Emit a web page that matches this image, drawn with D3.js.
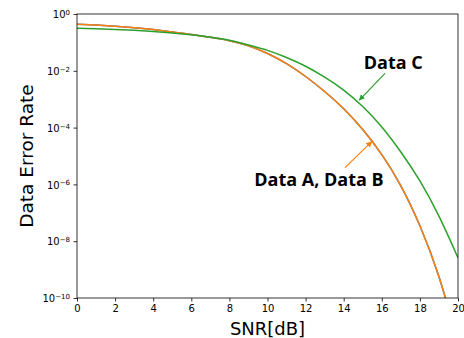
<!DOCTYPE html>
<html>
<head>
<meta charset="utf-8">
<script src="https://cdn.jsdelivr.net/npm/d3@7"></script>
<style>
  body { margin: 0; background: #fff; }
  text { font-family: "DejaVu Sans", sans-serif; }
</style>
</head>
<body>
<div id="chart"></div>
<script>
// SNR grid (dB)
var snr = [0, 1, 2, 3, 4, 5, 6, 7, 8, 9, 10, 11, 12, 13, 14, 15, 16, 17, 18, 19, 20];

// Data A and Data B lie on top of each other
var dataA = [0.437, 0.407, 0.372, 0.331, 0.282, 0.234, 0.191, 0.151, 0.115, 0.0759, 0.0407,
             0.0178, 6.3e-3, 1.86e-3, 4.6e-4, 8.5e-5, 1.12e-5, 8.9e-7, 3.5e-8, 5.6e-10, 2.8e-12];
var dataB = [0.437, 0.407, 0.372, 0.331, 0.282, 0.234, 0.191, 0.151, 0.115, 0.0759, 0.0407,
             0.0178, 6.3e-3, 1.86e-3, 4.6e-4, 8.5e-5, 1.12e-5, 8.9e-7, 3.5e-8, 5.6e-10, 2.8e-12];
var dataC = [0.316, 0.302, 0.285, 0.266, 0.243, 0.216, 0.186, 0.153, 0.119, 0.0813, 0.0525,
             0.0295, 0.0145, 6.0e-3, 2.1e-3, 5.5e-4, 1.05e-4, 1.38e-5, 1.32e-6, 7.6e-8, 2.6e-9];

var xTicks = [0, 2, 4, 6, 8, 10, 12, 14, 16, 18, 20];
var yTickExps = [0, -2, -4, -6, -8, -10];

// annotation: text anchor and arrow tail/tip, in data coords
var noteLabels = ["Data C", "Data A, Data B"];
var noteText = [[16.6, 0.0112], [12.7, 8.8e-7]];
var noteTail = [[16.17, 8.1e-3], [14.07, 3.9e-6]];
var noteTip = [[14.82, 9.3e-4], [15.47, 3.2e-5]];

var W = 464, H = 338;
var margin = {top: 14, right: 6, bottom: 40, left: 77};
var width = W - margin.left - margin.right;
var height = H - margin.top - margin.bottom;

var svg = d3.select("#chart").append("svg")
    .attr("width", W)
    .attr("height", H);

var defs = svg.append("defs");
defs.append("clipPath").attr("id", "plotclip")
  .append("rect").attr("width", width).attr("height", height);

["#2ca02c", "#ff7f0e"].forEach(function(c, i){
    defs.append("marker")
        .attr("id", "head" + i)
        .attr("viewBox", "0 0 10 10")
        .attr("refX", 9).attr("refY", 5)
        .attr("markerWidth", 6).attr("markerHeight", 6)
        .attr("markerUnits", "userSpaceOnUse")
        .attr("orient", "auto")
      .append("path")
        .attr("d", "M0,0 L10,5 L0,10 z")
        .attr("fill", c);
});

var g = svg.append("g")
    .attr("transform", "translate(" + margin.left + "," + margin.top + ")");

var x = d3.scaleLinear().domain([0, 20]).range([0, width]);
var y = d3.scaleLog().domain([1e-10, 1]).range([height, 0]);

// lines
var line = d3.line()
    .x(function(d){ return x(d[0]); })
    .y(function(d){ return y(d[1]); })
    .curve(d3.curveNatural);

var series = [
    {vals: dataA, color: "#1f77b4"},
    {vals: dataB, color: "#ff7f0e"},
    {vals: dataC, color: "#2ca02c"}
];

var plot = g.append("g").attr("clip-path", "url(#plotclip)");
plot.selectAll("path.series")
    .data(series)
  .enter().append("path")
    .attr("class", "series")
    .attr("d", function(s){ return line(d3.zip(snr, s.vals)); })
    .attr("fill", "none")
    .attr("stroke", function(s){ return s.color; })
    .attr("stroke-width", 1.5);

// frame
g.append("rect")
    .attr("width", width)
    .attr("height", height)
    .attr("fill", "none")
    .attr("stroke", "black")
    .attr("stroke-width", 0.8);

// x axis
var xAxis = g.append("g")
    .attr("transform", "translate(0," + height + ")")
    .call(d3.axisBottom(x).tickValues(xTicks).tickSize(3.5).tickPadding(3.5).tickFormat(d3.format("d")));
xAxis.select(".domain").remove();
xAxis.selectAll("text").attr("font-size", 10).attr("fill", "black").style("font-family", "DejaVu Sans");
xAxis.selectAll("line").attr("stroke-width", 0.8);

// y axis
var yAxis = g.append("g")
    .call(d3.axisLeft(y).tickValues(yTickExps.map(function(e){ return Math.pow(10, e); }))
          .tickSize(3.5).tickPadding(3.5).tickFormat(""));
yAxis.select(".domain").remove();
yAxis.selectAll("line").attr("stroke-width", 0.8);
yAxis.selectAll(".tick text").remove();
yAxis.selectAll(".tick").each(function(d, i){
    var t = d3.select(this).append("text")
        .attr("x", -7)
        .attr("dy", "0.36em")
        .attr("text-anchor", "end")
        .attr("fill", "black")
        .attr("font-size", 10);
    t.append("tspan").text("10");
    t.append("tspan")
        .attr("dy", "-0.45em")
        .attr("font-size", 7)
        .text(yTickExps[i] === 0 ? "0" : "\u2212" + (-yTickExps[i]));
});

// axis titles
g.append("text")
    .attr("x", width / 2)
    .attr("y", height + 37)
    .attr("text-anchor", "middle")
    .attr("font-size", 18)
    .text("SNR[dB]");

g.append("text")
    .attr("transform", "translate(" + (33 - margin.left) + "," + (height / 2) + ") rotate(-90)")
    .attr("text-anchor", "middle")
    .attr("font-size", 18.5)
    .text("Data Error Rate");

// annotations
var noteColors = ["#2ca02c", "#ff7f0e"];
noteLabels.forEach(function(lbl, i){
    g.append("line")
        .attr("x1", x(noteTail[i][0])).attr("y1", y(noteTail[i][1]))
        .attr("x2", x(noteTip[i][0])).attr("y2", y(noteTip[i][1]))
        .attr("stroke", noteColors[i])
        .attr("stroke-width", 1.2)
        .attr("marker-end", "url(#head" + i + ")");
    g.append("text")
        .attr("x", x(noteText[i][0]))
        .attr("y", y(noteText[i][1]))
        .attr("text-anchor", "middle")
        .attr("font-size", 18)
        .attr("font-weight", "bold")
        .style("font-family", "'Open Sans', sans-serif")
        .text(lbl);
});
</script>
</body>
</html>
